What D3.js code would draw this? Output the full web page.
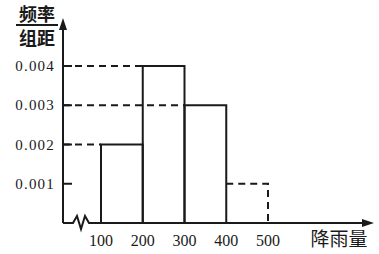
<!DOCTYPE html>
<html>
<head>
<meta charset="utf-8">
<script src="https://cdn.jsdelivr.net/npm/d3@7"></script>
<style>
  html, body { margin: 0; padding: 0; background: #fff; }
  svg { display: block; }
</style>
</head>
<body>
<div id="chart"></div>
<script>
// 分组（降雨量）与频率/组距
const binStarts = [100, 200, 300, 400];
const binEnds = [200, 300, 400, 500];
const densities = [0.002, 0.004, 0.003, 0.001];
const dashedBins = [false, false, false, true];
const xTicks = [100, 200, 300, 400, 500];
const yTicks = [0.001, 0.002, 0.003, 0.004];

const width = 379, height = 254;
const originX = 63, originY = 223;

const svg = d3.select('#chart').append('svg')
  .attr('width', width)
  .attr('height', height);

const x = d3.scaleLinear().domain([100, 500]).range([101, 268]);
const y = d3.scaleLinear().domain([0, 0.004]).range([originY, 66]);

const ink = '#1a1a1a';
const serif = '"Liberation Serif", "DejaVu Serif", serif';
const cjk = '"Noto Sans CJK SC", sans-serif';

// 坐标轴
svg.append('line')
  .attr('x1', originX).attr('y1', originY)
  .attr('x2', originX).attr('y2', 26)
  .attr('stroke', ink).attr('stroke-width', 2);
svg.append('path')
  .attr('d', `M${originX - 4},30 L${originX},18 L${originX + 4},30 Z`)
  .attr('fill', ink);

// x 轴，带折断号
svg.append('path')
  .attr('d', `M${originX},${originY} L73,${originY} L77,216 L81,229 L85,216 L89,${originY} L366,${originY}`)
  .attr('fill', 'none')
  .attr('stroke', ink).attr('stroke-width', 2)
  .attr('stroke-linejoin', 'miter');
svg.append('path')
  .attr('d', `M362,${originY - 4} L374,${originY} L362,${originY + 4} Z`)
  .attr('fill', ink);

// 虚线参考线（从 y 轴到矩形左边）
const bins = binStarts.map((s, i) => ({ x0: s, x1: binEnds[i], d: densities[i], dashed: dashedBins[i] }));

svg.append('g').selectAll('line')
  .data(bins.filter(b => !b.dashed))
  .join('line')
  .attr('x1', originX).attr('x2', d => x(d.x0))
  .attr('y1', d => y(d.d)).attr('y2', d => y(d.d))
  .attr('stroke', ink).attr('stroke-width', 2)
  .attr('stroke-dasharray', '7,5');

// y 轴刻度
svg.append('g').selectAll('line')
  .data(yTicks)
  .join('line')
  .attr('x1', originX).attr('x2', originX + 9)
  .attr('y1', d => y(d)).attr('y2', d => y(d))
  .attr('stroke', ink).attr('stroke-width', 2);

// 直方图矩形
svg.append('g').selectAll('path')
  .data(bins.filter(b => !b.dashed))
  .join('path')
  .attr('d', d => `M${x(d.x0)},${originY} V${y(d.d)} H${x(d.x1)} V${originY}`)
  .attr('fill', 'none')
  .attr('stroke', ink).attr('stroke-width', 2);

svg.append('g').selectAll('path')
  .data(bins.filter(b => b.dashed))
  .join('path')
  .attr('d', d => `M${x(d.x0)},${y(d.d)} H${x(d.x1)} V${originY}`)
  .attr('fill', 'none')
  .attr('stroke', ink).attr('stroke-width', 2)
  .attr('stroke-dasharray', '7,5');

// 刻度文字
svg.append('g').selectAll('text')
  .data(yTicks)
  .join('text')
  .attr('x', 55)
  .attr('y', d => y(d) + 5)
  .attr('text-anchor', 'end')
  .style('font-family', serif)
  .style('font-size', '15px')
  .style('letter-spacing', '1.2px')
  .style('fill', ink)
  .text(d => d3.format('.3f')(d));

svg.append('g').selectAll('text')
  .data(xTicks)
  .join('text')
  .attr('x', d => x(d))
  .attr('y', 246)
  .attr('text-anchor', 'middle')
  .style('font-family', serif)
  .style('font-size', '16px')
  .style('fill', ink)
  .text(d => d);

// 轴标题
svg.append('text')
  .attr('x', 339).attr('y', 246)
  .attr('text-anchor', 'middle')
  .style('font-family', cjk)
  .style('font-size', '19px')
  .style('fill', ink)
  .text('降雨量');

svg.append('text')
  .attr('x', 37).attr('y', 21)
  .attr('text-anchor', 'middle')
  .style('font-family', cjk)
  .style('font-size', '18px')
  .style('font-weight', 'bold')
  .style('fill', ink)
  .text('频率');
svg.append('line')
  .attr('x1', 16).attr('x2', 58)
  .attr('y1', 25).attr('y2', 25)
  .attr('stroke', ink).attr('stroke-width', 2);
svg.append('text')
  .attr('x', 37).attr('y', 45)
  .attr('text-anchor', 'middle')
  .style('font-family', cjk)
  .style('font-size', '18px')
  .style('font-weight', 'bold')
  .style('fill', ink)
  .text('组距');
</script>
</body>
</html>
